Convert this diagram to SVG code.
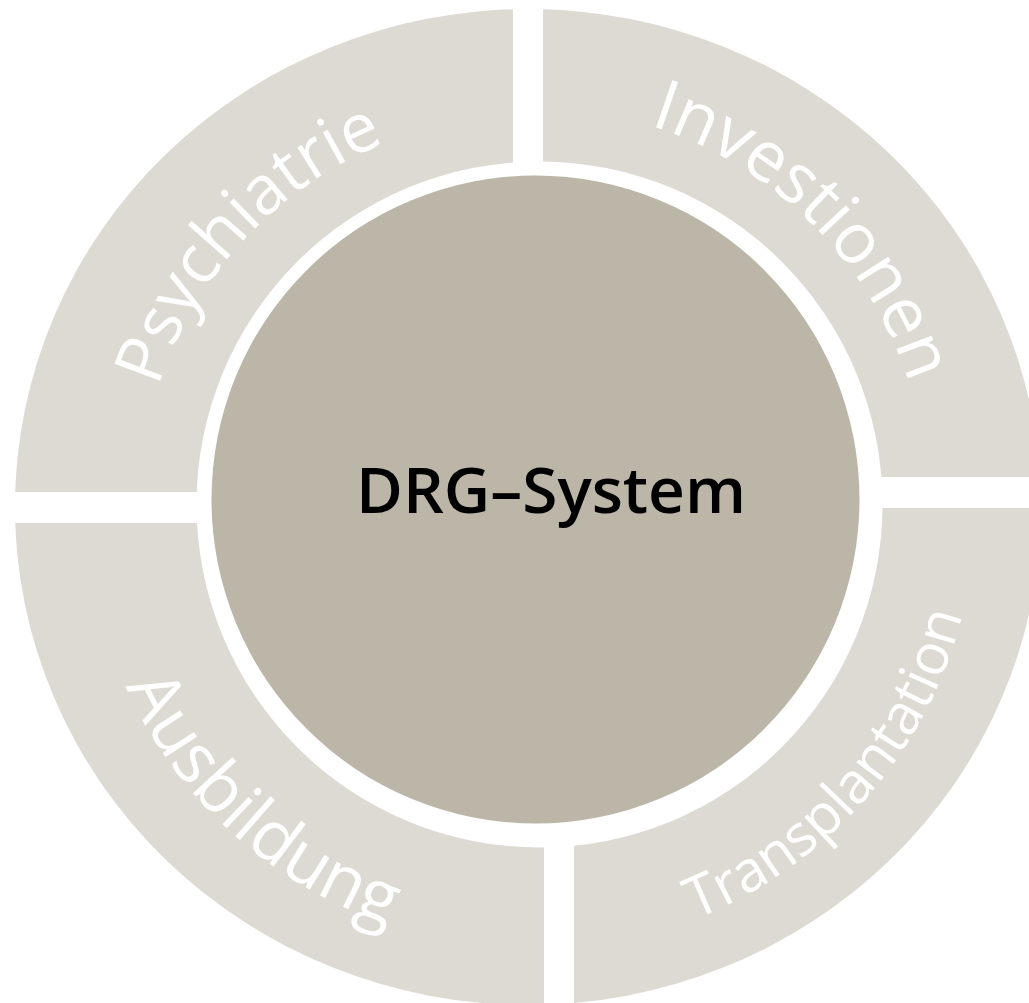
<svg xmlns="http://www.w3.org/2000/svg" width="1029" height="1003" viewBox="0 0 1029 1003">
  <style>
    .seg { fill: #DDDAD3; fill-rule: evenodd; }
    .ring-label { fill: #FFFFFF; font-family: "Open Sans", "DejaVu Sans", sans-serif; font-weight: 400; }
    .hub { fill: #BBB6A7; }
    .hub-label { fill: #000000; font-family: "Open Sans", "DejaVu Sans", sans-serif; font-weight: 600; font-size: 64px; }
  </style>
  <defs>
    <clipPath id="clipTL"><rect x="0" y="0" width="513" height="492"/></clipPath>
    <clipPath id="clipTR"><rect x="543" y="0" width="486" height="477"/></clipPath>
    <clipPath id="clipBR"><rect x="574" y="508" width="455" height="495"/></clipPath>
    <clipPath id="clipBL"><rect x="0" y="523" width="544" height="480"/></clipPath>
    <path id="annulus" d="M15,507 A513,498 0 1 1 1041,507 A513,498 0 1 1 15,507 Z M196.5,504.5 A343,343 0 1 0 882.5,504.5 A343,343 0 1 0 196.5,504.5 Z"/>
    <path id="arcTL" d="M140.3,519.3 A390,390 0 0 1 515.7,115.3"/>
    <path id="arcTR" d="M529.3,107 A398,398 0 0 1 928,504.3"/>
    <path id="arcBL" d="M87.2,519.7 A443,443 0 0 0 544.7,947.8"/>
    <path id="arcBR" d="M559.2,950.1 A446,446 0 0 0 975.1,475.8"/>
  </defs>
  <rect x="0" y="0" width="1029" height="1003" fill="#FFFFFF"/>

  <g id="node-psychiatrie">
    <use href="#annulus" class="seg" clip-path="url(#clipTL)"/>
    <text class="ring-label" font-size="68"><textPath href="#arcTL" startOffset="50%" text-anchor="middle">Psychiatrie</textPath></text>
  </g>
  <g id="node-investionen">
    <use href="#annulus" class="seg" clip-path="url(#clipTR)"/>
    <text class="ring-label" font-size="70"><textPath href="#arcTR" startOffset="50%" text-anchor="middle">Investionen</textPath></text>
  </g>
  <g id="node-transplantation">
    <use href="#annulus" class="seg" clip-path="url(#clipBR)"/>
    <text class="ring-label" font-size="57"><textPath href="#arcBR" startOffset="50%" text-anchor="middle">Transplantation</textPath></text>
  </g>
  <g id="node-ausbildung">
    <use href="#annulus" class="seg" clip-path="url(#clipBL)"/>
    <text class="ring-label" font-size="70"><textPath href="#arcBL" startOffset="51%" text-anchor="middle">Ausbildung</textPath></text>
  </g>
  <g id="node-drg-system">
    <circle class="hub" cx="535.5" cy="499.5" r="324"/>
    <text class="hub-label" x="551" y="513" text-anchor="middle">DRG–System</text>
  </g>
  <g id="connectors"></g>
</svg>
